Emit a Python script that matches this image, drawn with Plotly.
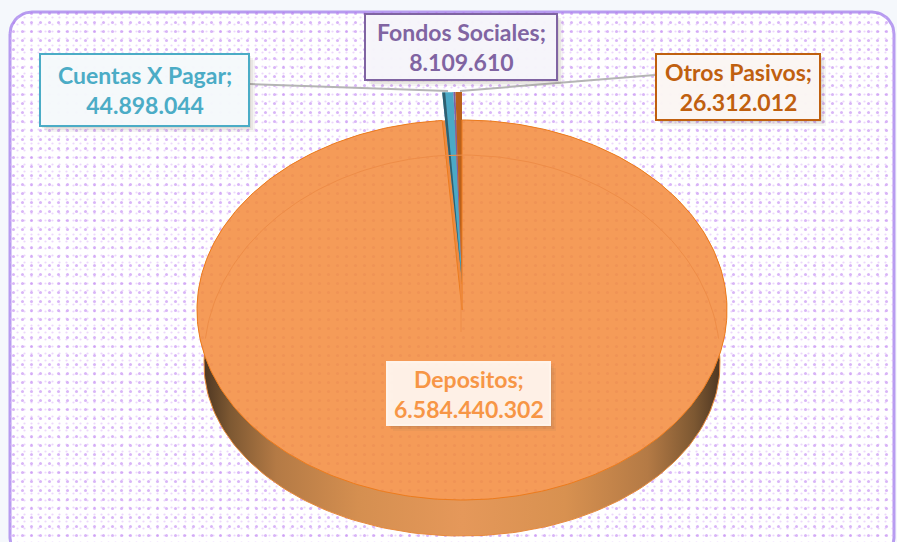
import numpy as np
import plotly.graph_objects as go

categories = ["Depositos", "Cuentas X Pagar", "Fondos Sociales", "Otros Pasivos"]
values = [6584440302, 44898044, 8109610, 26312012]
value_labels = ["6.584.440.302", "44.898.044", "8.109.610", "26.312.012"]
slice_colors = ["#f59b58", "#4ba9c6", "#7d60a0", "#b9611c"]
text_colors = ["#f79646", "#4bacc6", "#8064a2", "#c0600f"]
lifts = [0, 28, 28, 28]

W, H = 897, 542
CX, CY, RX, RY = 462, 310, 265, 190


def ell(t, dy=0):
    return CX + RX * np.sin(t), CY - RY * np.cos(t) + dy


def rrect(x0, y0, x1, y1, r):
    a = np.linspace(0, np.pi / 2, 12)
    xs = np.concatenate([x0 + r - r * np.cos(a), x1 - r + r * np.sin(a), x1 - r + r * np.cos(a), x0 + r - r * np.sin(a)])
    ys = np.concatenate([y0 + r - r * np.sin(a), y0 + r - r * np.cos(a), y1 - r + r * np.sin(a), y1 - r + r * np.cos(a)])
    return np.append(xs, xs[0]), np.append(ys, ys[0])


fig = go.Figure()

# panel with halftone dots
px, py = rrect(10, 12, 894, 560, 22)
fig.add_trace(go.Scatter(x=px, y=py, mode="lines", fill="toself", fillcolor="#ffffff",
                         line=dict(color="#b79cf0", width=3), hoverinfo="skip", showlegend=False))
for size, solidity, colour in ((7, 0.08, "#d9b0f8"), (9, 0.09, "#b46ef0")):
    fig.add_trace(go.Scatter(x=px, y=py, mode="none", fill="toself", fillcolor="rgba(0,0,0,0)",
                             fillpattern=dict(shape=".", fgcolor=colour, bgcolor="rgba(0,0,0,0)",
                                              size=size, solidity=solidity, fillmode="overlay"),
                             hoverinfo="skip", showlegend=False))

# side wall of the disc: a narrower, lower ellipse mostly hidden by the top face
t = np.linspace(0, 2 * np.pi, 240)
fig.add_trace(go.Scatter(
    x=CX + 258 * np.sin(t), y=364 - 172 * np.cos(t), mode="lines", fill="toself", line=dict(color="#e88a3c", width=1),
    fillgradient=dict(type="horizontal", colorscale=[
        [0, "#4e3722"], [0.05, "#7d5832"], [0.14, "#b47a45"], [0.3, "#d58f50"], [0.5, "#e5985a"],
        [0.7, "#d89150"], [0.86, "#b47a45"], [0.95, "#7d5832"], [1, "#4e3722"]]),
    hoverinfo="skip", showlegend=False))

# top face underlay, so that the pulled-out wedges leave no hole behind them
ux, uy = ell(t)
fig.add_trace(go.Scatter(x=ux, y=uy, mode="none", fill="toself", fillcolor="#ec8a42",
                         hoverinfo="skip", showlegend=False))

# slices, angles taken from the values
total = sum(values)
ends = np.cumsum(values) / total * 2 * np.pi
starts = np.r_[0, ends[:-1]]
for i in range(1, 4):
    tt = np.linspace(starts[i], ends[i], 8)
    ex, ey = ell(tt, -lifts[i])
    fig.add_trace(go.Scatter(x=np.r_[CX, ex, CX], y=np.r_[CY - lifts[i], ey, CY - lifts[i]], mode="none", fill="toself",
                             fillcolor=slice_colors[i], hoverinfo="skip", showlegend=False, name=categories[i]))
    if i == 1:  # dark cut face along the wedge's left edge
        fig.add_trace(go.Scatter(x=[CX, ex[0], ex[0] + 3, CX], y=[CY - lifts[i], ey[0], ey[0], CY - lifts[i]],
                                 mode="none", fill="toself", fillcolor="#2f5f70", hoverinfo="skip", showlegend=False))

tt = np.linspace(starts[0], ends[0], 360)
ex, ey = ell(tt)
fig.add_trace(go.Scatter(x=np.r_[CX, ex, CX], y=np.r_[CY, ey, CY], mode="lines", fill="toself",
                         fillcolor=slice_colors[0], line=dict(color="#ec7c1e", width=1),
                         fillpattern=dict(shape=".", fgcolor="#f09355", bgcolor=slice_colors[0], size=9,
                                          solidity=0.1, fillmode="replace"),
                         hoverinfo="skip", showlegend=False, name=categories[0]))

# faint inner rim on the top face
it = np.linspace(np.radians(-84), np.radians(84), 120)
fig.add_trace(go.Scatter(x=CX + 258 * np.sin(it), y=360 - 205 * np.cos(it), mode="lines",
                         line=dict(color="#ee8d48", width=1), hoverinfo="skip", showlegend=False))
fig.add_trace(go.Scatter(x=[CX - 1, CX - 1], y=[284, 332], mode="lines",
                         line=dict(color="#ee8d48", width=1), hoverinfo="skip", showlegend=False))

# leader lines
fig.add_trace(go.Scatter(x=[250, 448], y=[84, 91], mode="lines", line=dict(color="#b5b5b5", width=2),
                         hoverinfo="skip", showlegend=False))
fig.add_trace(go.Scatter(x=[460, 655], y=[91, 75], mode="lines", line=dict(color="#b5b5b5", width=2),
                         hoverinfo="skip", showlegend=False))

# data labels: (category index, box)
boxes = {1: (40, 54, 249, 126), 2: (365, 14, 557, 80), 3: (656, 54, 820, 120), 0: (387, 362, 550, 425)}
fills = {0: "rgba(255,244,235,0.97)", 1: "rgba(246,250,252,0.97)", 2: "rgba(247,246,251,0.97)", 3: "rgba(252,247,244,0.97)"}
shapes, notes = [], []
for i, (x0, y0, x1b, y1b) in boxes.items():
    for g, alpha in ((6, 0.07), (4, 0.09), (2, 0.12)):
        shapes.append(dict(type="rect", xref="x", yref="y", x0=x0 + g, y0=y0 + g, x1=x1b + g, y1=y1b + g,
                           fillcolor=f"rgba(120,100,80,{alpha})", line_width=0, layer="above"))
    shapes.append(dict(type="rect", xref="x", yref="y", x0=x0, y0=y0, x1=x1b, y1=y1b, fillcolor=fills[i],
                       line=dict(color=text_colors[i] if i else "#fff4eb", width=2), layer="above"))
    notes.append(dict(x=(x0 + x1b) / 2, y=(y0 + y1b) / 2, xref="x", yref="y", showarrow=False, align="center",
                      text=f"<b>{categories[i]};<br>{value_labels[i]}</b>",
                      font=dict(family="Lato, Carlito, sans-serif", size=23, color=text_colors[i])))

fig.update_layout(
    width=W, height=H, margin=dict(l=0, r=0, t=0, b=0), autosize=False, showlegend=False,
    paper_bgcolor="#f5f8fc", plot_bgcolor="#f5f8fc", shapes=shapes, annotations=notes,
    xaxis=dict(range=[0, W], visible=False, fixedrange=True),
    yaxis=dict(range=[H, 0], visible=False, fixedrange=True),
)
fig.write_html("out.html", config=dict(displayModeBar=False),
               post_script="document.body.style.margin='0';document.documentElement.style.overflow='hidden';")
